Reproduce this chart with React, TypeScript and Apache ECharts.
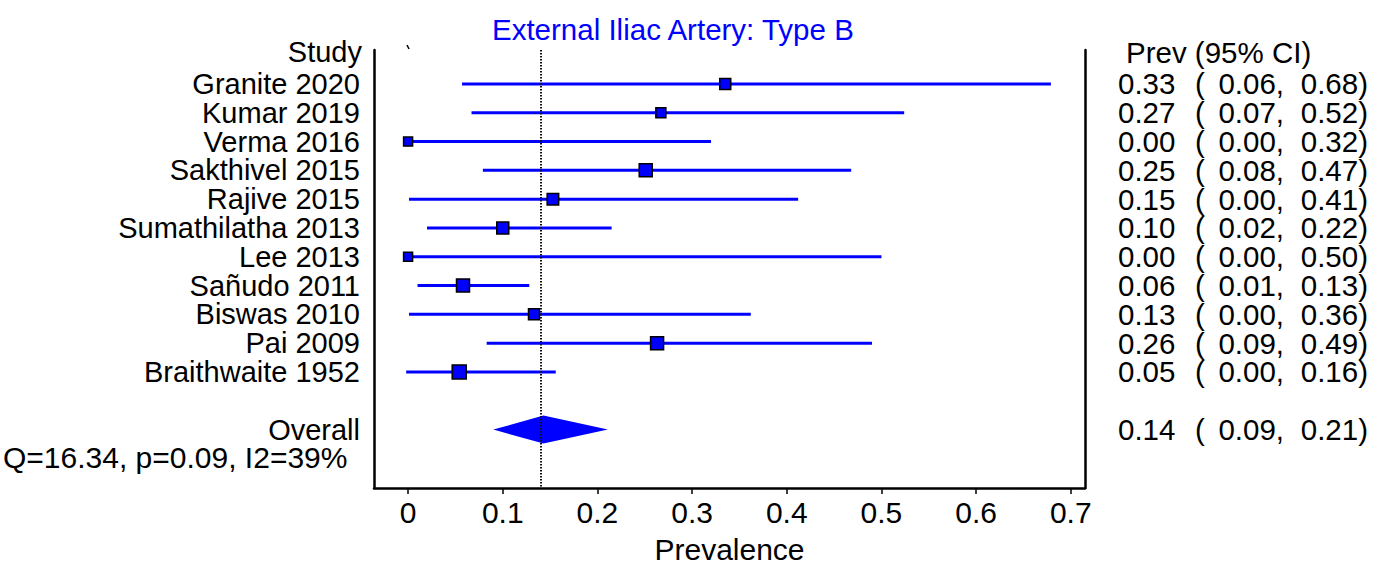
import React, { useEffect, useRef } from "react";
import * as echarts from "echarts";

// ---- data ----
const studies = [
  "Granite 2020",
  "Kumar 2019",
  "Verma 2016",
  "Sakthivel 2015",
  "Rajive 2015",
  "Sumathilatha 2013",
  "Lee 2013",
  "Sañudo 2011",
  "Biswas 2010",
  "Pai 2009",
  "Braithwaite 1952",
];
const estimates = [0.335, 0.267, 0.0, 0.251, 0.153, 0.1, 0.0, 0.058, 0.133, 0.263, 0.054];
const lowers = [0.057, 0.067, 0.0, 0.079, 0.001, 0.02, 0.0, 0.01, 0.001, 0.083, -0.002];
const uppers = [0.679, 0.524, 0.32, 0.468, 0.412, 0.215, 0.5, 0.128, 0.362, 0.49, 0.156];
const weights = [11, 10, 9, 13, 11.5, 12, 9, 13, 11, 13, 14];
const prevText = ["0.33", "0.27", "0.00", "0.25", "0.15", "0.10", "0.00", "0.06", "0.13", "0.26", "0.05"];
const lowText = ["0.06", "0.07", "0.00", "0.08", "0.00", "0.02", "0.00", "0.01", "0.00", "0.09", "0.00"];
const highText = ["0.68", "0.52", "0.32", "0.47", "0.41", "0.22", "0.50", "0.13", "0.36", "0.49", "0.16"];

const overallLabel = "Overall";
const overallValues = [0.09, 0.143, 0.211]; // lower, estimate, upper
const overallText = ["0.14", "0.09", "0.21"];
const overallRow = 13; // study rows are 1..11

const xTicks = [0, 0.1, 0.2, 0.3, 0.4, 0.5, 0.6, 0.7];
const statsText = "Q=16.34, p=0.09, I2=39%";
const titleText = "External Iliac Artery: Type B";

const X_MIN = -0.036;
const X_MAX = 0.715;
const Y_MIN = -0.18;
const Y_MAX = 15.03;

const FONT = "'Liberation Sans', Arial, sans-serif";
const BLUE = "#0000ff";

export default function App() {
  const ref = useRef<HTMLDivElement>(null);

  useEffect(() => {
    if (!ref.current) return;
    const chart = echarts.init(ref.current, undefined, { renderer: "svg" });

    const rows = studies.map((_, i) => i + 1);
    const ciData = studies.map((_, i) => [lowers[i], uppers[i], rows[i]]);
    const pointData = studies.map((_, i) => ({ value: [estimates[i], rows[i]], symbolSize: weights[i] }));

    // table rows: [xLeft, xRight, row, name, prev, low, high]
    const tableData = [
      ...studies.map((s, i) => [X_MIN, X_MAX, rows[i], s, prevText[i], lowText[i], highText[i]]),
      [X_MIN, X_MAX, overallRow, overallLabel, overallText[0], overallText[1], overallText[2]],
    ];

    const font29 = `29px ${FONT}`;
    const font295 = `29.5px ${FONT}`;

    chart.setOption({
      animation: false,
      textStyle: { fontFamily: FONT },
      grid: { left: 374, right: 303, top: 50, bottom: 81, containLabel: false },
      xAxis: {
        type: "value",
        min: X_MIN,
        max: X_MAX,
        axisLine: { show: true, onZero: false, lineStyle: { color: "#000", width: 2.5 } },
        axisTick: {
          show: true,
          customValues: xTicks,
          length: 6,
          lineStyle: { color: "#000", width: 1.5 },
        },
        axisLabel: {
          show: true,
          customValues: xTicks,
          formatter: (v: number) => (v === 0 ? "0" : v.toFixed(1)),
          fontSize: 30,
          color: "#000",
          margin: 9,
          fontFamily: FONT,
        },
        splitLine: { show: false },
        name: "Prevalence",
        nameLocation: "middle",
        nameGap: 46,
        nameTextStyle: { fontSize: 30, color: "#000", fontFamily: FONT },
      },
      yAxis: [
        {
          type: "value",
          min: Y_MIN,
          max: Y_MAX,
          inverse: true,
          position: "left",
          axisLine: { show: true, onZero: false, lineStyle: { color: "#000", width: 2.5 } },
          axisTick: { show: false },
          axisLabel: { show: false },
          splitLine: { show: false },
        },
        {
          type: "value",
          min: Y_MIN,
          max: Y_MAX,
          inverse: true,
          position: "right",
          axisLine: { show: true, onZero: false, lineStyle: { color: "#000", width: 2.5 } },
          axisTick: { show: false },
          axisLabel: { show: false },
          splitLine: { show: false },
        },
      ],
      title: {
        text: titleText,
        left: 487,
        top: 9,
        textStyle: { fontSize: 29.5, fontWeight: "normal", color: BLUE, fontFamily: FONT },
      },
      graphic: [
        {
          type: "text",
          left: 3,
          top: 442,
          style: { text: statsText, font: `30px ${FONT}`, fill: "#000" },
          silent: true,
        },
        {
          type: "text",
          x: 362,
          y: 52,
          style: {
            text: "Study",
            font: font29,
            fill: "#000",
            textAlign: "right",
            textVerticalAlign: "middle",
          },
          silent: true,
        },
        {
          type: "text",
          x: 1126,
          y: 52,
          style: {
            text: "Prev (95% CI)",
            font: font295,
            fill: "#000",
            textAlign: "left",
            textVerticalAlign: "middle",
          },
          silent: true,
        },
        {
          type: "line",
          shape: { x1: 407, y1: 45, x2: 409, y2: 49 },
          style: { stroke: "#000", lineWidth: 1.5 },
          silent: true,
        },
      ],
      series: [
        {
          type: "custom",
          name: "ci",
          z: 2,
          silent: true,
          clip: false,
          data: ciData,
          encode: { x: [0, 1], y: 2 },
          renderItem: (params: any, api: any) => {
            const p1 = api.coord([api.value(0), api.value(2)]);
            const p2 = api.coord([api.value(1), api.value(2)]);
            return {
              type: "line",
              shape: { x1: p1[0], y1: p1[1], x2: p2[0], y2: p2[1] },
              style: { stroke: BLUE, lineWidth: 3 },
            };
          },
        },
        {
          type: "custom",
          name: "overall",
          z: 2,
          silent: true,
          data: [[overallValues[0], overallValues[1], overallValues[2], overallRow]],
          encode: { x: [0, 1, 2], y: 3 },
          renderItem: (params: any, api: any) => {
            const lo = api.coord([api.value(0), api.value(3)]);
            const c = api.coord([api.value(1), api.value(3)]);
            const hi = api.coord([api.value(2), api.value(3)]);
            const h = 14;
            return {
              type: "polygon",
              shape: {
                points: [
                  [lo[0], c[1]],
                  [c[0], c[1] - h],
                  [hi[0], c[1]],
                  [c[0], c[1] + h],
                ],
              },
              style: { fill: BLUE },
            };
          },
        },
        {
          type: "scatter",
          name: "ref",
          z: 3,
          silent: true,
          data: [],
          markLine: {
            silent: true,
            symbol: ["none", "none"],
            label: { show: false },
            lineStyle: { color: "#111", width: 2, type: [1.5, 1.5] },
            data: [{ xAxis: overallValues[1] }],
          },
        },
        {
          type: "scatter",
          name: "points",
          z: 4,
          silent: true,
          symbol: "rect",
          data: pointData,
          itemStyle: { color: BLUE, borderColor: "#000", borderWidth: 1.5, opacity: 1 },
          emphasis: { disabled: true },
        },
        {
          type: "custom",
          name: "table",
          z: 5,
          silent: true,
          clip: false,
          data: tableData,
          dimensions: ["xl", "xr", "row", "name", "prev", "low", "high"],
          encode: { x: [0, 1], y: 2 },
          renderItem: (params: any, api: any) => {
            const d = tableData[params.dataIndex];
            const l = api.coord([d[0], d[2]]);
            const r = api.coord([d[1], d[2]]);
            const y = l[1];
            const base = r[0] + 33;
            const mk = (text: string, x: number, align: string, font: string) => ({
              type: "text",
              style: {
                text,
                x,
                y,
                textAlign: align,
                textVerticalAlign: "middle",
                font,
                fill: "#000",
              },
            });
            return {
              type: "group",
              children: [
                mk(String(d[3]), l[0] - 14, "right", font29),
                mk(String(d[4]), base, "left", font295),
                mk("(", base + 77, "left", font295),
                mk(`${d[5]},`, base + 166, "right", font295),
                mk(`${d[6]})`, base + 250, "right", font295),
              ],
            };
          },
        },
      ],
    });

    return () => {
      chart.dispose();
    };
  }, []);

  return (
    <div
      ref={ref}
      style={{ position: "fixed", left: 0, top: 0, width: 1388, height: 569, background: "#fff" }}
    />
  );
}
